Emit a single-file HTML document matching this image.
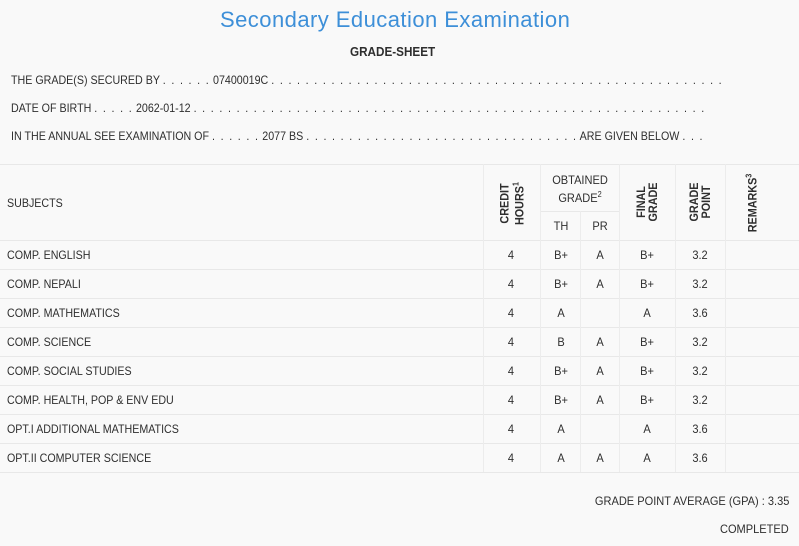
<!DOCTYPE html>
<html><head><meta charset="utf-8"><style>
body{margin:0;width:799px;height:546px;background:#f9f9f9;font-family:"Liberation Sans",sans-serif;color:#2e2e2e;position:relative;overflow:hidden}
.a{position:absolute;white-space:nowrap}
.t{font-size:12px;transform:scaleX(.89);transform-origin:left center}
.d{letter-spacing:1.5px}
.c{font-size:12px;transform:translateX(-50%) scaleX(.92);}
.r{position:absolute;white-space:nowrap;font-size:12px;transform:rotate(-90deg) scaleX(.9);font-weight:bold;text-align:center;line-height:12px}
.h{position:absolute;background:#e8e8e8;height:1px}
.v{position:absolute;background:#ececec;width:1px}
</style></head><body>
<div class="a" style="left:220px;top:7px;font-size:22px;color:#3d8fd8;letter-spacing:.45px">Secondary Education Examination</div>
<div class="a" style="left:350px;top:44px;font-size:13px;font-weight:bold;transform:scaleX(.9);transform-origin:left">GRADE-SHEET</div>
<div class="a t" style="left:11px;top:73px">THE GRADE(S) SECURED BY <span class="d">. . . . . .</span> 07400019C <span class="d">. . . . . . . . . . . . . . . . . . . . . . . . . . . . . . . . . . . . . . . . . . . . . . . . . . . . .</span></div>
<div class="a t" style="left:11px;top:101px">DATE OF BIRTH <span class="d">. . . . .</span> 2062-01-12 <span class="d">. . . . . . . . . . . . . . . . . . . . . . . . . . . . . . . . . . . . . . . . . . . . . . . . . . . . . . . . . . . .</span></div>
<div class="a t" style="left:11px;top:129px">IN THE ANNUAL SEE EXAMINATION OF <span class="d">. . . . . .</span> 2077 BS <span class="d">. . . . . . . . . . . . . . . . . . . . . . . . . . . . . . . .</span> ARE GIVEN BELOW <span class="d">. . .</span></div>

<div class="h" style="left:0;width:799px;top:164px"></div>
<div class="h" style="left:540px;width:79px;top:211px"></div>
<div class="h" style="left:0;width:799px;top:240px"></div>
<div class="h" style="left:0;width:799px;top:269px"></div>
<div class="h" style="left:0;width:799px;top:298px"></div>
<div class="h" style="left:0;width:799px;top:327px"></div>
<div class="h" style="left:0;width:799px;top:356px"></div>
<div class="h" style="left:0;width:799px;top:385px"></div>
<div class="h" style="left:0;width:799px;top:414px"></div>
<div class="h" style="left:0;width:799px;top:443px"></div>
<div class="h" style="left:0;width:799px;top:472px"></div>
<div class="v" style="left:483px;top:164px;height:308px"></div>
<div class="v" style="left:540px;top:164px;height:308px"></div>
<div class="v" style="left:580px;top:211px;height:261px"></div>
<div class="v" style="left:619px;top:164px;height:308px"></div>
<div class="v" style="left:675px;top:164px;height:308px"></div>
<div class="v" style="left:725px;top:164px;height:308px"></div>

<div class="a t" style="left:7px;top:196px">SUBJECTS</div>
<div class="r" style="left:482px;top:190px;width:60px">CREDIT<br>HOURS<sup style="font-size:8px">1</sup></div>
<div class="a c" style="left:580px;top:173px">OBTAINED</div>
<div class="a c" style="left:580px;top:190px">GRADE<sup style="font-size:8px">2</sup></div>
<div class="a c" style="left:561px;top:219px">TH</div>
<div class="a c" style="left:600px;top:219px">PR</div>
<div class="r" style="left:617px;top:190px;width:60px">FINAL<br>GRADE</div>
<div class="r" style="left:670px;top:190px;width:60px">GRADE<br>POINT</div>
<div class="r" style="left:719px;top:196px;width:64px">REMARKS<sup style="font-size:8px">3</sup></div>

<div class="a t" style="left:7px;top:248px">COMP. ENGLISH</div>
<div class="a t" style="left:7px;top:277px">COMP. NEPALI</div>
<div class="a t" style="left:7px;top:306px">COMP. MATHEMATICS</div>
<div class="a t" style="left:7px;top:335px">COMP. SCIENCE</div>
<div class="a t" style="left:7px;top:364px">COMP. SOCIAL STUDIES</div>
<div class="a t" style="left:7px;top:393px">COMP. HEALTH, POP &amp; ENV EDU</div>
<div class="a t" style="left:7px;top:422px">OPT.I ADDITIONAL MATHEMATICS</div>
<div class="a t" style="left:7px;top:451px">OPT.II COMPUTER SCIENCE</div>

<div class="a c" style="left:511px;top:248px">4</div><div class="a c" style="left:561px;top:248px">B+</div><div class="a c" style="left:600px;top:248px">A</div><div class="a c" style="left:647px;top:248px">B+</div><div class="a c" style="left:700px;top:248px">3.2</div>
<div class="a c" style="left:511px;top:277px">4</div><div class="a c" style="left:561px;top:277px">B+</div><div class="a c" style="left:600px;top:277px">A</div><div class="a c" style="left:647px;top:277px">B+</div><div class="a c" style="left:700px;top:277px">3.2</div>
<div class="a c" style="left:511px;top:306px">4</div><div class="a c" style="left:561px;top:306px">A</div><div class="a c" style="left:647px;top:306px">A</div><div class="a c" style="left:700px;top:306px">3.6</div>
<div class="a c" style="left:511px;top:335px">4</div><div class="a c" style="left:561px;top:335px">B</div><div class="a c" style="left:600px;top:335px">A</div><div class="a c" style="left:647px;top:335px">B+</div><div class="a c" style="left:700px;top:335px">3.2</div>
<div class="a c" style="left:511px;top:364px">4</div><div class="a c" style="left:561px;top:364px">B+</div><div class="a c" style="left:600px;top:364px">A</div><div class="a c" style="left:647px;top:364px">B+</div><div class="a c" style="left:700px;top:364px">3.2</div>
<div class="a c" style="left:511px;top:393px">4</div><div class="a c" style="left:561px;top:393px">B+</div><div class="a c" style="left:600px;top:393px">A</div><div class="a c" style="left:647px;top:393px">B+</div><div class="a c" style="left:700px;top:393px">3.2</div>
<div class="a c" style="left:511px;top:422px">4</div><div class="a c" style="left:561px;top:422px">A</div><div class="a c" style="left:647px;top:422px">A</div><div class="a c" style="left:700px;top:422px">3.6</div>
<div class="a c" style="left:511px;top:451px">4</div><div class="a c" style="left:561px;top:451px">A</div><div class="a c" style="left:600px;top:451px">A</div><div class="a c" style="left:647px;top:451px">A</div><div class="a c" style="left:700px;top:451px">3.6</div>

<div class="a" style="right:10px;top:494px;font-size:12px;transform:scaleX(.92);transform-origin:right">GRADE POINT AVERAGE (GPA) : 3.35</div>
<div class="a" style="right:10px;top:522px;font-size:12px;transform:scaleX(.92);transform-origin:right">COMPLETED</div>
</body></html>
